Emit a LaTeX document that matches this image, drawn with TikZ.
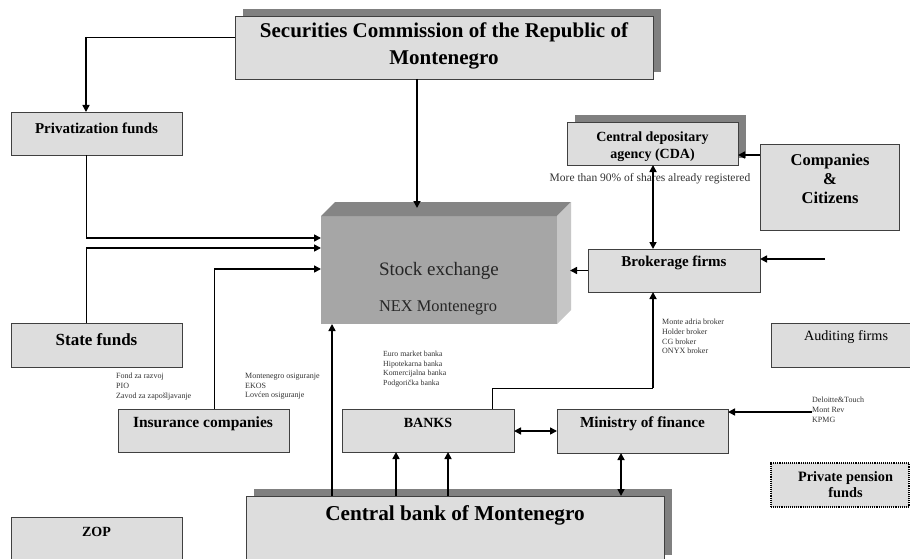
\documentclass[tikz,border=0pt]{standalone}
\usepackage{fontspec}
\setmainfont{Liberation Serif}
\usetikzlibrary{arrows.meta,calc,shadows}
\definecolor{boxfill}{HTML}{DDDDDD}
\definecolor{shade}{HTML}{808080}
\definecolor{sefront}{HTML}{A6A6A6}
\definecolor{setop}{HTML}{858585}
\definecolor{seside}{HTML}{C6C6C6}
\definecolor{smalltext}{HTML}{333333}
\begin{document}
\begin{tikzpicture}[x=1pt,y=-1pt,
  box/.style={draw=black!75, line width=0.9pt, fill=boxfill, anchor=north west, inner sep=0pt, outer sep=0pt},
  shadowed/.style={drop shadow={shadow xshift=8pt, shadow yshift=7pt, fill=shade, opacity=1}},
  dottedbox/.style={box, densely dotted, line width=1.1pt, draw=black},
  lbl/.style={inner sep=0pt, align=center, text=black},
  smalllist/.style={inner sep=0pt, anchor=north west, align=left, text=smalltext, font=\fontsize{8}{9.7}\selectfont},
  thinl/.style={line width=0.8pt, draw=black},
  arr/.style={line width=1.6pt, draw=black, -{Triangle[length=7pt,width=7pt]}},
  darr/.style={line width=1.6pt, draw=black, {Triangle[length=7pt,width=7pt]}-{Triangle[length=7pt,width=7pt]}}
]
\useasboundingbox (0,0) rectangle (910,559);
\fill[white] (0,0) rectangle (910,559);

% boxes
\node[box, shadowed, minimum width=418pt, minimum height=63pt] (sec) at (235,16) {};
\node[box, minimum width=171pt, minimum height=43pt] (priv) at (11,112) {};
\node[box, shadowed, minimum width=171pt, minimum height=43pt] (cda) at (567,122) {};
\node[box, minimum width=139pt, minimum height=86pt] (comp) at (760,144) {};
\node[box, minimum width=171pt, minimum height=44pt] (state) at (11,323) {};
\node[box, minimum width=172pt, minimum height=43pt] (brok) at (588,249) {};
\node[box, minimum width=145pt, minimum height=44pt] (audit) at (771,323) {};
\node[box, minimum width=171pt, minimum height=43pt] (ins) at (118,409) {};
\node[box, minimum width=172pt, minimum height=43pt] (banks) at (342,409) {};
\node[box, minimum width=171pt, minimum height=44pt] (min) at (557,409) {};
\node[dottedbox, minimum width=138pt, minimum height=44pt] (ppf) at (771,463) {};
\node[box, shadowed, minimum width=418pt, minimum height=66pt] (cb) at (246,496) {};
\node[box, minimum width=171pt, minimum height=50pt] (zop) at (11,517) {};

% stock exchange block
\node[fill=sefront, anchor=north west, inner sep=0pt, outer sep=0pt, minimum width=236pt, minimum height=108pt] (se) at (321,216) {};
\fill[setop] (se.north west) -- ++(14,-14) -- ($(se.north east)+(14,-14)$) -- (se.north east) -- cycle;
\fill[seside] (se.north east) -- ++(14,-14) -- ($(se.south east)+(14,-14)$) -- (se.south east) -- cycle;

% texts
\node[lbl, font=\bfseries\fontsize{21}{27}\selectfont] (sec-t) at (444,46) {Securities Commission of the Republic of\\Montenegro};
\node[lbl, font=\bfseries\fontsize{15}{17}\selectfont] (priv-t) at (96.5,128) {Privatization funds};
\node[lbl, font=\bfseries\fontsize{14}{17}\selectfont] (cda-t) at (652.5,146.5) {Central depositary\\agency (CDA)};
\node[lbl, text=smalltext, font=\fontsize{11.5}{13}\selectfont] (more-t) at (650,179) {More than 90\% of shares already registered};
\node[lbl, font=\bfseries\fontsize{16.5}{19}\selectfont] (comp-t) at (830,179) {Companies\\\&\\Citizens};
\node[lbl, text=black!85, font=\fontsize{19}{22}\selectfont] (se-t1) at (439,271) {Stock exchange};
\node[lbl, text=black!85, font=\fontsize{16.4}{19}\selectfont] (se-t2) at (438,308) {NEX Montenegro};
\node[lbl, font=\bfseries\fontsize{15}{17}\selectfont] (brok-t) at (674,263) {Brokerage firms};
\node[lbl, font=\bfseries\fontsize{17}{19}\selectfont] (state-t) at (96.5,340) {State funds};
\node[lbl, font=\fontsize{14.2}{17}\selectfont] (audit-t) at (846,337) {Auditing firms};
\node[lbl, font=\bfseries\fontsize{15.5}{17}\selectfont] (ins-t) at (203,424) {Insurance companies};
\node[lbl, font=\bfseries\fontsize{14}{17}\selectfont] (banks-t) at (428,423) {BANKS};
\node[lbl, font=\bfseries\fontsize{15.3}{17}\selectfont] (min-t) at (642.5,424) {Ministry of finance};
\node[lbl, font=\bfseries\fontsize{14.3}{16}\selectfont] (ppf-t) at (845.5,485) {Private pension\\funds};
\node[lbl, font=\bfseries\fontsize{21.2}{25}\selectfont] (cb-t) at (455,515) {Central bank of Montenegro};
\node[lbl, font=\bfseries\fontsize{14}{17}\selectfont] (zop-t) at (96.5,532) {ZOP};

\node[smalllist] (fond-l) at (116,373) {Fond za razvoj\\PIO\\Zavod za zapošljavanje};
\node[smalllist] (insl) at (245,373) {Montenegro osiguranje\\EKOS\\Lovćen osiguranje};
\node[smalllist, font=\fontsize{7.8}{9.5}\selectfont] (bankl) at (383,351) {Euro market banka\\Hipotekarna banka\\Komercijalna banka\\Podgorička banka};
\node[smalllist] (brokl) at (662,319) {Monte adria broker\\Holder broker\\CG broker\\ONYX broker};
\node[smalllist] (audl) at (812,397) {Deloitte\&Touch\\Mont Rev\\KPMG};

% connectors
\coordinate (p1) at (86,37);
\draw[thinl] (sec.west |- p1) -- (p1);
\draw[arr] (p1) -- (priv.north -| p1);

\coordinate (p2) at (86,238);
\draw[thinl] (priv.south -| p2) -- (p2);
\draw[arr] (p2) -- (se.west |- p2);

\coordinate (p3) at (86,248);
\draw[thinl] (state.north -| p3) -- (p3);
\draw[arr] (p3) -- (se.west |- p3);

\coordinate (p4) at (214,269);
\draw[thinl] (ins.north -| p4) -- (p4);
\draw[arr] (p4) -- (se.west |- p4);

\coordinate (p5) at (417,208);
\draw[arr] (sec.south -| p5) -- (p5);

\coordinate (c1) at (332,0);
\draw[arr] (cb.north -| c1) -- (se.south -| c1);
\coordinate (c2) at (396,0);
\draw[arr] (cb.north -| c2) -- (banks.south -| c2);
\coordinate (c3) at (448,0);
\draw[arr] (cb.north -| c3) -- (banks.south -| c3);
\coordinate (c4) at (621,0);
\draw[darr] (cb.north -| c4) -- (min.south -| c4);

\coordinate (b1) at (0,431);
\draw[darr] (banks.east |- b1) -- (min.west |- b1);

\coordinate (q1) at (492,388);
\coordinate (q2) at (653,388);
\draw[thinl] (banks.north -| q1) -- (q1) -- (q2);
\draw[arr] (q2) -- (brok.south -| q2);

\coordinate (q3) at (653,0);
\draw[darr] (cda.south -| q3) -- (brok.north -| q3);

\coordinate (seback) at ($(se.east)+(13,0)$);
\draw[arr] (brok.west) -- (brok.west -| seback);

\coordinate (r1) at (825,259);
\draw[arr] (r1) -- (brok.east |- r1);

\coordinate (y155) at (0,155);
\draw[arr] (comp.west |- y155) -- (cda.east |- y155);

\coordinate (d1) at (812,412);
\draw[arr] (d1) -- (min.east |- d1);
\end{tikzpicture}
\end{document}
